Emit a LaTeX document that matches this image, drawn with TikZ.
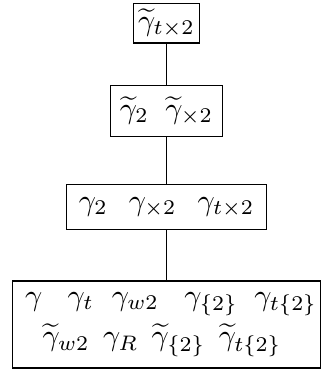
\documentclass[tikz,border=0pt]{standalone}
\usepackage{tikz}
\usetikzlibrary{positioning}

\begin{document}
\begin{tikzpicture} [
                setnode/.style={
                    rectangle,
                    draw,
                    inner sep=0pt,
                    align=center
                }
            ]

                \useasboundingbox (0,0) rectangle (107pt,-123.3pt);

                \node[setnode, minimum width=22pt, minimum height=13.3pt]     (set0)  at (55.5pt,-7.7pt)      {$\widetilde{\gamma}_{t\times2}$};
                \node[setnode, minimum width=37.3pt, minimum height=17pt]     (set1)  [below=13.7pt of set0]  {$\widetilde{\gamma}_2$\hspace{5.5pt}$\widetilde{\gamma}_{\times2}$};
                \node[setnode, minimum width=66.7pt, minimum height=15pt]     (set2)  [below=15.7pt of set1]  {$\gamma_2$\hspace{7pt}$\gamma_{\times2}$\hspace{7pt}$\gamma_{t\times2}$};
                \node[setnode, minimum width=102.7pt, minimum height=29pt]    (set3)  [below=16.7pt of set2]  {\hspace*{3pt}$\gamma$\hspace{8.5pt}$\gamma_t$\hspace{6pt}$\gamma_{w2}$\hspace{8.5pt}$\gamma_{\{2\}}$\hspace{5.5pt}$\gamma_{t\{2\}}$\\[1.5pt]
                    $\widetilde{\gamma}_{w2}$\hspace{4.5pt}$\gamma_R$\hspace{4.5pt}$\widetilde{\gamma}_{\{2\}}$\hspace{4.5pt}$\widetilde{\gamma}_{t\{2\}}$\hspace*{3pt}};

                \draw (set0) -- (set1);
                \draw (set1) -- (set2);
                \draw (set2) -- (set3);

            \end{tikzpicture}
\end{document}
